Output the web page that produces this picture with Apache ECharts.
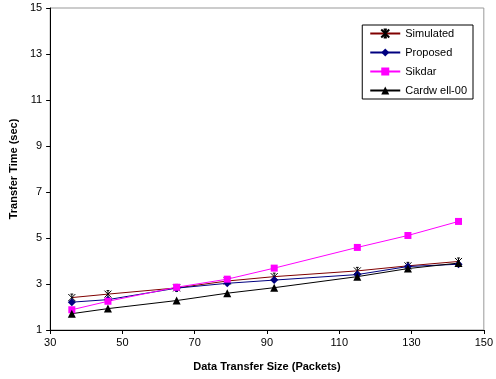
<!DOCTYPE html>
<html>
<head>
<meta charset="utf-8">
<script src="https://cdn.jsdelivr.net/npm/echarts@6/dist/echarts.min.js"></script>
<style>
  html, body { margin: 0; padding: 0; background: #fff; }
  #chart { width: 496px; height: 379px; }
</style>
</head>
<body>
<div id="chart"></div>
<script>
var sizes = [36, 46, 65, 79, 92, 115, 129, 143];
var simulated = [2.41, 2.56, 2.83, 3.13, 3.32, 3.57, 3.79, 3.98];
var proposed = [2.21, 2.32, 2.82, 3.03, 3.17, 3.41, 3.76, 3.86];
var sikdar = [1.88, 2.25, 2.86, 3.21, 3.69, 4.59, 5.11, 5.72];
var cardwell = [1.71, 1.93, 2.28, 2.60, 2.84, 3.32, 3.67, 3.91];

var myChart = echarts.init(document.getElementById('chart'));

function pairs(vals) {
	return sizes.map(function (x, i) { return [x, vals[i]]; });
}

// asterisk marker
var star = 'path://M0,0L10,10M10,0L0,10M5,0L5,10M3,0L7,0M3,10L7,10';

var font = 'Liberation Sans, Arial, sans-serif';

var option = {
	animation: false,
	textStyle: { fontFamily: font },
	grid: {
		left: 49, right: 7, top: 8, bottom: 49,
		show: true,
		borderColor: '#999',
		borderWidth: 1
	},
	legend: {
		orient: 'vertical',
		right: 23, top: 25,
		width: 110,
		padding: [3, 6, 3, 7],
		backgroundColor: '#fff',
		borderColor: '#000',
		borderWidth: 1,
		itemWidth: 30,
		itemHeight: 10,
		itemGap: 8,
		textStyle: { fontSize: 11, color: '#000', fontFamily: font },
		data: ['Simulated', 'Proposed', 'Sikdar', 'Cardw ell-00']
	},
	xAxis: {
		type: 'value',
		min: 30, max: 150, interval: 20,
		name: 'Data Transfer Size (Packets)',
		nameLocation: 'middle',
		nameGap: 31,
		nameTextStyle: { fontWeight: 'bold', fontSize: 11, color: '#000' },
		axisLine: { lineStyle: { color: '#000' } },
		axisTick: { lineStyle: { color: '#000' }, length: 4 },
		axisLabel: { color: '#000', fontSize: 11, margin: 7 },
		splitLine: { show: false }
	},
	yAxis: {
		type: 'value',
		min: 1, max: 15, interval: 2,
		name: 'Transfer Time (sec)',
		nameLocation: 'middle',
		nameGap: 27,
		nameTextStyle: { fontWeight: 'bold', fontSize: 11, color: '#000' },
		axisLine: { show: true, lineStyle: { color: '#000' } },
		axisTick: { show: true, lineStyle: { color: '#000' }, length: 4 },
		axisLabel: { color: '#000', fontSize: 11, margin: 8 },
		splitLine: { show: false }
	},
	series: [
		{
			name: 'Simulated', type: 'line', data: pairs(simulated),
			symbol: star, symbolSize: 7,
			lineStyle: { color: '#800000', width: 1 },
			itemStyle: { color: 'transparent', borderColor: '#000', borderWidth: 1 }
		},
		{
			name: 'Proposed', type: 'line', data: pairs(proposed),
			symbol: 'diamond', symbolSize: 8,
			lineStyle: { color: '#000080', width: 1 },
			itemStyle: { color: '#000080' }
		},
		{
			name: 'Sikdar', type: 'line', data: pairs(sikdar),
			symbol: 'rect', symbolSize: 7,
			lineStyle: { color: '#ff00ff', width: 1 },
			itemStyle: { color: '#ff00ff' }
		},
		{
			name: 'Cardw ell-00', type: 'line', data: pairs(cardwell),
			symbol: 'triangle', symbolSize: 8,
			lineStyle: { color: '#000', width: 1 },
			itemStyle: { color: '#000' }
		}
	]
};
myChart.setOption(option);
</script>
</body>
</html>
